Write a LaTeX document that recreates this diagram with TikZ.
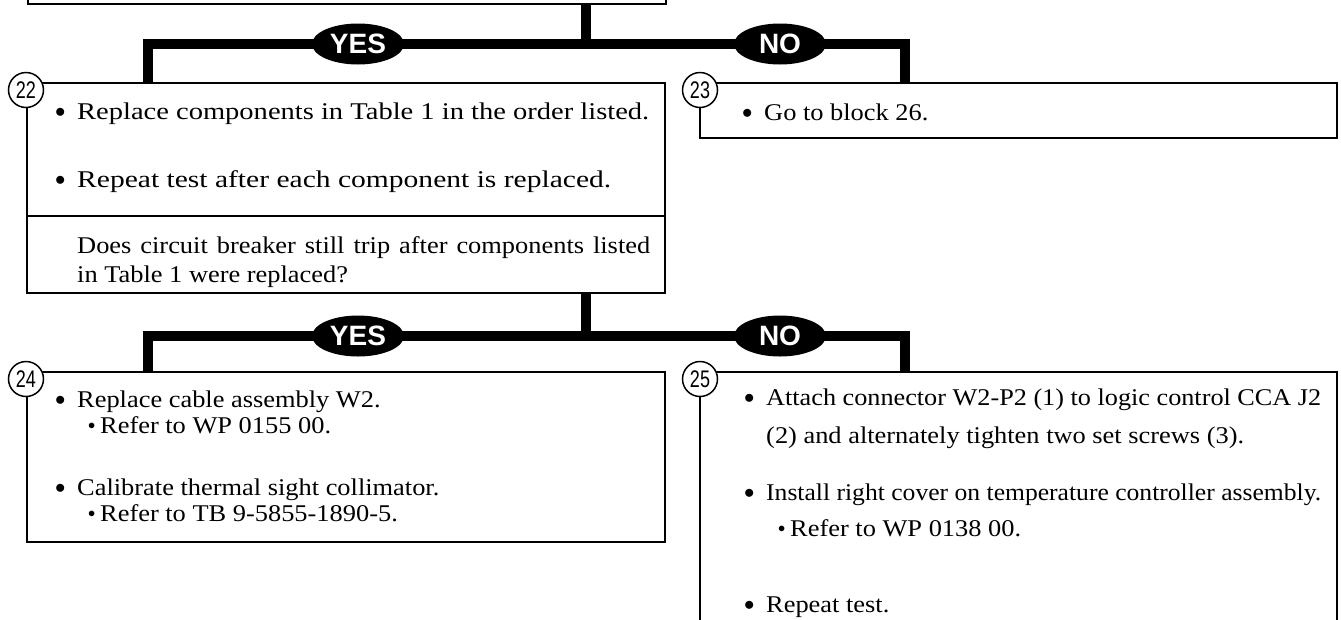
\documentclass[tikz,border=0pt]{standalone}
\usepackage{fontspec}
\usepackage{graphicx}
\setmainfont{Liberation Serif}[FakeStretch=1.1]
\newfontfamily\tagfont{Liberation Sans}
\newfontfamily\numfont{Liberation Sans}[FakeStretch=0.75]
\usetikzlibrary{shapes.geometric}

\newcommand{\bul}{\makebox[22pt][l]{\raisebox{2pt}{\fontsize{20}{20}\selectfont$\bullet$}}}
\newcommand{\subbul}{\makebox[12pt][l]{\raisebox{3.5pt}{\fontsize{14}{14}\selectfont$\bullet$}}}
\newcommand{\fitw}[2]{\resizebox{#1}{\height}{#2}}

\begin{document}
\begin{tikzpicture}[x=1pt, y=-1pt,
    box/.style={draw, line width=1.8pt, inner sep=0pt, outer sep=0pt, anchor=north west},
    conn/.style={line width=10pt},
    tag/.style={ellipse, fill=black, text=white, minimum width=92pt, minimum height=41pt,
        inner sep=0pt, font=\tagfont\bfseries\fontsize{28}{28}\selectfont},
    num/.style={circle, draw, fill=white, line width=1.5pt, minimum size=35pt, inner sep=0pt,
        font=\numfont\fontsize{24}{24}\selectfont},
    txt/.style={anchor=base west, inner sep=0pt, font=\fontsize{24}{28}\selectfont}]

    \useasboundingbox (0,0) rectangle (1341,619);

    % --- Boxes ---
    \node[box, anchor=south west, minimum width=638pt, minimum height=60pt] (top) at (28,4) {};
    \node[box, minimum width=638pt, minimum height=210pt] (b22) at (27,83) {};
    \node[box, minimum width=637pt, minimum height=55pt]  (b23) at (700,83) {};
    \node[box, minimum width=638pt, minimum height=170pt] (b24) at (27,372) {};
    \node[box, minimum width=637pt, minimum height=300pt] (b25) at (700,372) {};
    \draw[line width=1.8pt] (b22.west |- 0,216) -- (b22.east |- 0,216);

    % --- Connectors ---
    \coordinate (j1) at (586,44);
    \coordinate (j2) at (586,336);
    \draw[conn] (top.south -| j1) -- (j1);
    \draw[conn] ([xshift=121pt]b22.north west) |- (j1) -| ([xshift=205pt]b23.north west);
    \draw[conn] (b22.south -| j2) -- (j2);
    \draw[conn] ([xshift=121pt]b24.north west) |- (j2) -| ([xshift=205pt]b25.north west);

    \node[tag] (yes1) at (358,44) {YES};
    \node[tag] (no1)  at (780,44) {NO};
    \node[tag] (yes2) at (358,336) {YES};
    \node[tag] (no2)  at (780,336) {NO};

    % --- Block numbers ---
    \node[num] (n22) at (26,90) {22};
    \node[num] (n23) at (700,90) {23};
    \node[num] (n24) at (26,379) {24};
    \node[num] (n25) at (700,379) {25};

    % --- Texts ---
    \node[txt] (t22a) at (55,119) {\bul\fitw{572pt}{Replace components in Table 1 in the order listed.}};
    \node[txt] (t22b) at (55,187) {\bul\fitw{534pt}{Repeat test after each component is replaced.}};
    \node[txt] (q22a) at (77,253) {\makebox[573pt][s]{Does circuit breaker still trip after components listed}};
    \node[txt] (q22b) at (77,282) {in Table 1 were replaced?};

    \node[txt] (t23a) at (742,120) {\bul Go to block 26.};

    \node[txt] (t24a) at (55,407) {\bul Replace cable assembly W2.};
    \node[txt] (t24s) at (88,433) {\subbul Refer to WP 0155 00.};
    \node[txt] (t24b) at (55,495) {\bul Calibrate thermal sight collimator.};
    \node[txt] (t24t) at (88,521) {\subbul Refer to TB 9-5855-1890-5.};

    \node[txt] (t25a) at (744,405) {\bul\fitw{555pt}{Attach connector W2-P2 (1) to logic control CCA J2}};
    \node[txt] (t25c) at (766,443) {(2) and alternately tighten two set screws (3).};
    \node[txt] (t25b) at (744,500) {\bul\fitw{555pt}{Install right cover on temperature controller assembly.}};
    \node[txt] (t25s) at (778,536) {\subbul Refer to WP 0138 00.};
    \node[txt] (t25d) at (744,612) {\bul Repeat test.};

\end{tikzpicture}
\end{document}
